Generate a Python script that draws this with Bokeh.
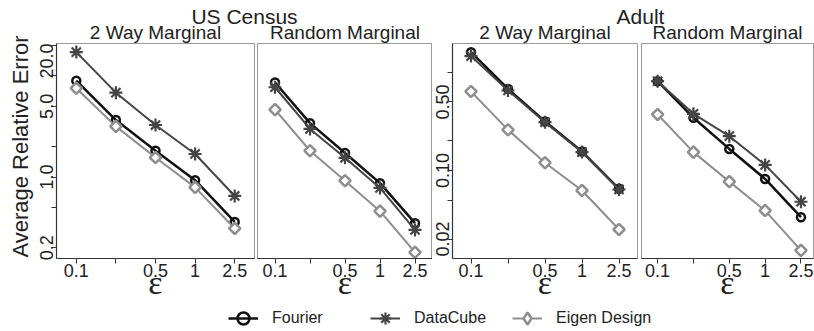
from bokeh.plotting import figure
from bokeh.models import (Range1d, FixedTicker, PrintfTickFormatter, Legend,
                          LegendItem, ColumnDataSource)
from bokeh.layouts import column, row
from bokeh.embed import file_html
from bokeh.resources import INLINE
from bokeh.core.properties import value
import math

# ---------------- data ----------------
eps_labels = ["0.1", "", "0.5", "1", "2.5"]
methods = ["Fourier", "DataCube", "Eigen Design"]
dataset_titles = ["US Census", "Adult"]
workload_titles = ["2 Way Marginal", "Random Marginal", "2 Way Marginal", "Random Marginal"]
y_title = "Average Relative Error"

census_2way_fourier = [8.98, 3.66, 1.82, 0.93, 0.36]
census_2way_datacube = [17.2, 6.83, 3.27, 1.69, 0.65]
census_2way_eigen = [7.56, 3.17, 1.56, 0.79, 0.31]

census_rand_fourier = [8.62, 3.41, 1.73, 0.87, 0.35]
census_rand_datacube = [7.73, 2.99, 1.55, 0.78, 0.30]
census_rand_eigen = [4.64, 1.82, 0.92, 0.46, 0.18]

adult_2way_fourier = [1.61, 0.68, 0.316, 0.156, 0.065]
adult_2way_datacube = [1.47, 0.655, 0.311, 0.154, 0.064]
adult_2way_eigen = [0.64, 0.26, 0.12, 0.0625, 0.025]

adult_rand_fourier = [0.815, 0.345, 0.166, 0.082, 0.0334]
adult_rand_datacube = [0.815, 0.379, 0.224, 0.114, 0.048]
adult_rand_eigen = [0.373, 0.154, 0.077, 0.039, 0.0153]

census_major = [0.2, 1.0, 5.0, 20.0]
census_minor = [0.5, 2.0, 10.0]
adult_major = [0.02, 0.1, 0.5]
adult_minor = [0.05, 0.2, 1.0]

census_yrange = (0.1564, 20.93)
adult_yrange = (0.01265, 1.976)

# ---------------- style / layout ----------------
FONT = "Liberation Sans"
TXT = "#222222"
AX = "#333333"
W, H = 814, 331
LEFT_W = 36
HEADER_H = 43
PANEL_H = 262
LEGEND_H = 26
FRAME_H = 215
panel_geom = [(20, 198, 1), (2, 175, 0), (20, 185, 2), (2, 172, 1)]
x_ranges = [(0.5, 5.5), (0.5, 5.5), (0.5, 5.5), (0.55, 5.35)]
group_centers = [244, 640]
title_y = 16
subtitle_y = 32
ytitle_x, ytitle_y = 20, 146
legend_left = 228

styles = {
    "Fourier": dict(color="#111111", lw=2.5, marker="circle", leg_marker="circle",
                    size=8, angle=0.0, fill=None, mlw=2.5),
    "DataCube": dict(color="#454545", lw=2.0, marker="asterisk", leg_marker="asterisk",
                     size=13, angle=0.0, fill=None, mlw=2.2),
    "Eigen Design": dict(color="#8e8e8e", lw=2.0, marker="square", leg_marker="diamond",
                         size=8, angle=0.7854, fill="white", mlw=2.5),
}

xs = list(range(1, len(eps_labels) + 1))


def bare(width, height, xr, yr):
    f = figure(width=width, height=height, x_range=Range1d(*xr), y_range=Range1d(*yr),
               x_axis_location=None, y_axis_location=None, output_backend="svg",
               toolbar_location=None, title_location=None, min_border=0,
               outline_line_color=None)
    f.grid.visible = False
    return f


def make_panel(i, series_vals, yr, major, minor, fmt, show_y):
    lb, fw, rb = panel_geom[i]
    p = figure(width=lb + fw + rb, height=PANEL_H,
               x_range=Range1d(*x_ranges[i]), y_range=Range1d(*yr),
               y_axis_type="log", y_axis_location="left" if show_y else None,
               output_backend="svg", toolbar_location=None, title_location=None,
               min_border_left=lb, min_border_right=rb, min_border_top=0,
               min_border_bottom=PANEL_H - FRAME_H)
    p.grid.grid_line_color = None
    p.outline_line_color = "#9a9a9a"
    p.outline_line_width = 1
    p.background_fill_color = "white"
    p.border_fill_color = "white"

    for name, vals in zip(methods, series_vals):
        st = styles[name]
        src = ColumnDataSource(dict(x=xs, y=vals))
        p.line("x", "y", source=src, line_color=st["color"], line_width=st["lw"])
        p.scatter("x", "y", source=src, marker=st["marker"], size=st["size"],
                  angle=st["angle"], line_color=st["color"], line_width=st["mlw"],
                  fill_color=st["fill"])

    xa = p.xaxis[0]
    xa.ticker = FixedTicker(ticks=[x for x, l in zip(xs, eps_labels) if l],
                            minor_ticks=[x for x, l in zip(xs, eps_labels) if not l])
    xa.major_label_overrides = {x: l for x, l in zip(xs, eps_labels) if l}
    xa.axis_label = "ε"
    xa.axis_label_text_font = "Liberation Serif"
    xa.axis_label_text_font_size = "34px"
    xa.axis_label_text_font_style = "normal"
    xa.axis_label_text_color = TXT
    xa.axis_label_standoff = -16
    xa.major_label_standoff = 0

    axes = [xa]
    if show_y:
        ya = p.yaxis[0]
        ya.ticker = FixedTicker(ticks=major, minor_ticks=minor)
        ya.formatter = PrintfTickFormatter(format=fmt)
        ya.major_label_orientation = "vertical"
        ya.major_label_standoff = -2
        ya.major_label_text_line_height = 0.9
        axes.append(ya)
    for a in axes:
        a.axis_line_color = AX
        a.axis_line_width = 1.2
        a.major_tick_line_color = AX
        a.minor_tick_line_color = AX
        a.major_tick_out = 5
        a.major_tick_in = 0
        a.minor_tick_out = 5
        a.minor_tick_in = 0
        a.major_label_text_font = FONT
        a.major_label_text_font_size = "18px"
        a.major_label_text_color = TXT
    return p


p1 = make_panel(0, [census_2way_fourier, census_2way_datacube, census_2way_eigen],
                census_yrange, census_major, census_minor, "%.1f", True)
p2 = make_panel(1, [census_rand_fourier, census_rand_datacube, census_rand_eigen],
                census_yrange, census_major, census_minor, "%.1f", False)
p3 = make_panel(2, [adult_2way_fourier, adult_2way_datacube, adult_2way_eigen],
                adult_yrange, adult_major, adult_minor, "%.2f", True)
p4 = make_panel(3, [adult_rand_fourier, adult_rand_datacube, adult_rand_eigen],
                adult_yrange, adult_major, adult_minor, "%.2f", False)

# ---------------- left strip (y title) ----------------
left = bare(LEFT_W, H, (0, LEFT_W), (H, 0))
left.text(x=[ytitle_x], y=[ytitle_y], text=[y_title], angle=math.pi / 2,
          text_font=value(FONT), text_font_size="22px", text_align="center",
          text_baseline="alphabetic", text_color=TXT)

# ---------------- header (titles) ----------------
frame_lefts = []
cum = LEFT_W
for lb, fw, rb in panel_geom:
    frame_lefts.append(cum + lb)
    cum += lb + fw + rb
sub_centers = [frame_lefts[k] + panel_geom[k][1] / 2 for k in range(4)]

hdr = bare(W - LEFT_W, HEADER_H, (LEFT_W, W), (HEADER_H, 0))
hdr.text(x=group_centers, y=[title_y] * 2, text=dataset_titles,
         text_font=value(FONT), text_font_size="21px", text_align="center",
         text_baseline="alphabetic", text_color=TXT)
hdr.text(x=sub_centers, y=[subtitle_y] * 4, text=workload_titles,
         text_font=value(FONT), text_font_size="19px", text_align="center",
         text_baseline="alphabetic", text_color=TXT)

# ---------------- legend ----------------
leg = bare(W - LEFT_W, LEGEND_H, (0, 1), (0, 1))
items = []
nan = float("nan")
for name in methods:
    st = styles[name]
    src = ColumnDataSource(dict(x=[nan], y=[nan]))
    r1 = leg.line("x", "y", source=src, line_color=st["color"], line_width=st["lw"])
    r2 = leg.scatter("x", "y", source=src, marker=st["leg_marker"],
                     line_color=st["color"], line_width=st["mlw"], fill_color=st["fill"])
    items.append(LegendItem(label=name, renderers=[r1, r2]))
legend = Legend(items=items, orientation="horizontal",
                location=(legend_left - LEFT_W, -2),
                glyph_width=30, glyph_height=30, label_standoff=14, label_width=98,
                spacing=0, padding=0, margin=0, border_line_color=None,
                background_fill_alpha=0, label_text_font=FONT,
                label_text_font_size="16px", label_text_color=TXT, label_height=20)
leg.add_layout(legend)

layout = row(left,
             column(hdr, row(p1, p2, p3, p4, spacing=0), leg, spacing=0),
             spacing=0)

with open("out.html", "w") as f:
    f.write(file_html(layout, INLINE))
